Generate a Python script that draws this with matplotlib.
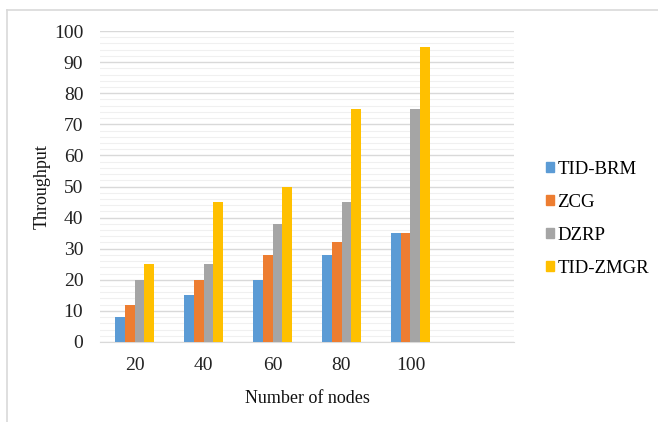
import matplotlib
matplotlib.use("Agg")
import matplotlib.pyplot as plt
from matplotlib.lines import Line2D
import numpy as np

categories = ["20", "40", "60", "80", "100"]
series_names = ["TID-BRM", "ZCG", "DZRP", "TID-ZMGR"]
tid_brm = [8, 15, 20, 28, 35]
zcg = [12, 20, 28, 32, 35]
dzrp = [20, 25, 38, 45, 75]
tid_zmgr = [25, 45, 50, 75, 95]
colors = ["#5B9BD5", "#ED7D31", "#A5A5A5", "#FFC000"]

plt.rcParams["font.family"] = ["Liberation Serif", "DejaVu Serif"]

W, H = 658, 422
fig = plt.figure(figsize=(W / 100, H / 100), dpi=100)
ax = fig.add_axes([100 / W, (H - 342) / H, (514 - 100) / W, (342 - 31) / H])

values = [tid_brm, zcg, dzrp, tid_zmgr]
x = np.arange(len(categories))
bw = 0.142
for i, (name, vals) in enumerate(zip(series_names, values)):
    ax.bar(x + (i - 1.5) * bw, vals, width=bw, color=colors[i], label=name, zorder=3)

# one extra empty slot on the category axis
ax.set_xlim(-0.5, len(categories) + 0.5)
ax.set_ylim(0, 100)
ax.set_xticks(x)
ax.set_xticklabels(categories)
ax.set_yticks(np.arange(0, 101, 10))
ax.set_yticks(np.arange(0, 101, 2), minor=True)
ax.grid(axis="y", which="major", color="#D9D9D9", linewidth=1.0, zorder=0)
ax.grid(axis="y", which="minor", color="#F0F0F0", linewidth=0.8, zorder=0)
ax.tick_params(axis="both", which="both", length=0, labelsize=14, colors="#222222")
ax.tick_params(axis="x", pad=11)
ax.tick_params(axis="y", pad=12)
for s in ["top", "right", "left"]:
    ax.spines[s].set_visible(False)
ax.spines["bottom"].set_color("#D9D9D9")

ax.set_ylabel("Throughput", fontsize=13, color="#111111")
ax.yaxis.set_label_coords(-0.12, 0.5)
ax.set_xlabel("Number of nodes", fontsize=13, color="#111111")
ax.xaxis.set_label_coords(0.5, -0.155)

handles = [plt.Rectangle((0, 0), 1, 1, color=c) for c in colors]
fig.legend(handles, series_names, loc="center left", bbox_to_anchor=(529 / W, 1 - 219 / H),
           frameon=False, fontsize=13.5, handlelength=0.45, handleheight=0.45,
           handletextpad=0.15, labelspacing=0.85)

# outer chart frame
fig.add_artist(Line2D([7 / W, 1], [1 - 10 / H, 1 - 10 / H], color="#D9D9D9", linewidth=1.2,
                      transform=fig.transFigure))
fig.add_artist(Line2D([7 / W, 7 / W], [0, 1 - 10 / H], color="#D9D9D9", linewidth=1.2,
                      transform=fig.transFigure))

fig.savefig("out.png", dpi=100)
